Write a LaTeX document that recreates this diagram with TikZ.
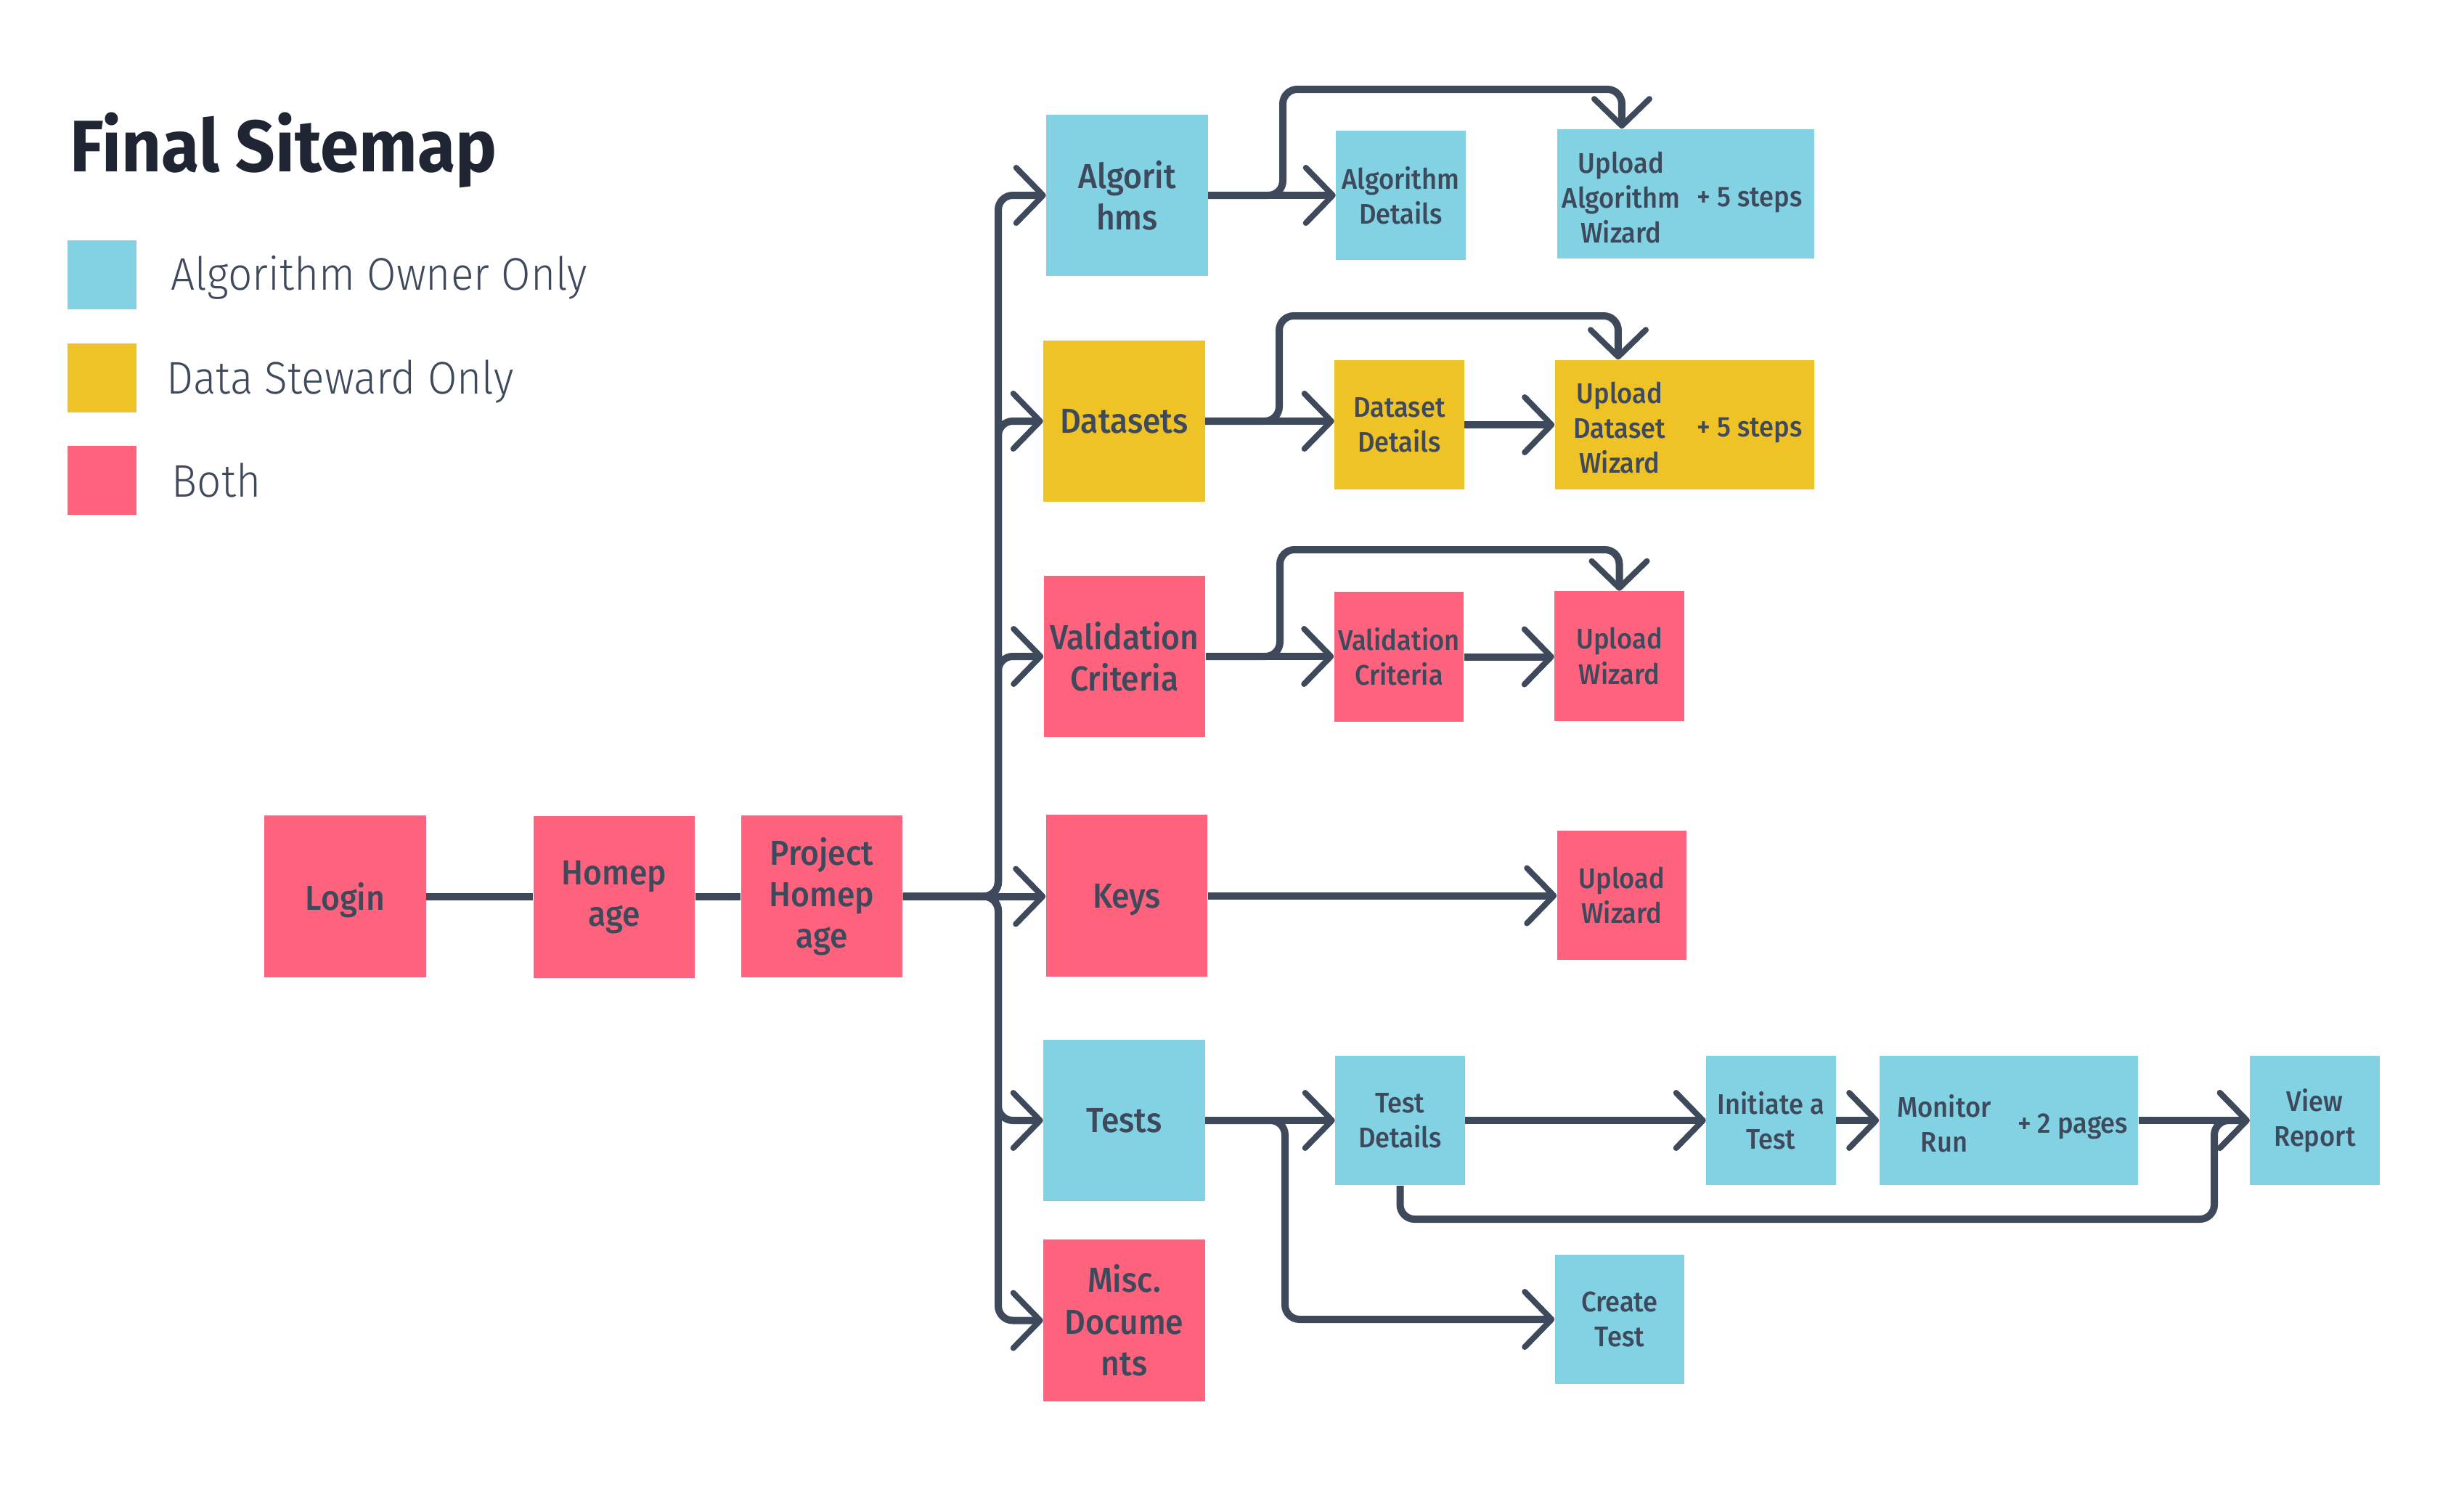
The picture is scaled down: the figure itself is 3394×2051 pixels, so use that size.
\documentclass[tikz,border=0pt]{standalone}
\usepackage{fontspec}
\setmainfont{Fira Sans}
\newfontfamily\boxfont{Fira Sans Medium}[FakeStretch=0.93]
\newfontfamily\legfont{Fira Sans Light}[FakeStretch=0.93]
\newfontfamily\titlefont{Fira Sans Bold}[FakeStretch=0.95]
\usetikzlibrary{arrows.meta}
\definecolor{cblue}{RGB}{130,210,227}
\definecolor{cyellow}{RGB}{239,194,38}
\definecolor{cpink}{RGB}{255,98,125}
\definecolor{ctext}{RGB}{62,74,92}
\definecolor{ctitle}{RGB}{31,37,50}
\definecolor{cline}{RGB}{62,74,92}
\tikzset{
  sq/.style={draw=none,inner sep=0pt,minimum width=2.22cm,minimum height=2.22cm,align=center,text=ctext,
    font=\boxfont\fontsize{13.6}{16.3}\selectfont},
  one/.style={text depth=0pt},
  sm/.style={draw=none,inner sep=0pt,minimum width=1.78cm,minimum height=1.78cm,align=center,text=ctext,
    font=\boxfont\fontsize{11.1}{13.7}\selectfont},
  lbl/.style={inner sep=0pt,align=center,text=ctext,font=\boxfont\fontsize{11.1}{13.7}\selectfont},
  conn/.style={draw=cline,line width=0.1cm,rounded corners=0.2cm},
  arr/.style={-{Straight Barb[length=0.37cm,width=0.76cm,line width=0.08cm,round]}},
  legtext/.style={anchor=base west,inner sep=0pt,text=ctext,font=\legfont\fontsize{17.9}{20}\selectfont},
}
\begin{document}
\begin{tikzpicture}[x=0.01cm,y=-0.01cm]
\useasboundingbox (0,0) rectangle (3394,2051);
\fill[white] (0,0) rectangle (3394,2051);

% title and legend
\node[anchor=base west,inner sep=0pt,text=ctitle,font=\titlefont\fontsize{28.6}{32}\selectfont] (title) at (96,236) {Final Sitemap};
\node[fill=cblue,minimum width=0.95cm,minimum height=0.95cm,inner sep=0pt] (lgb) at (140.5,378.5) {};
\node[fill=cyellow,minimum width=0.95cm,minimum height=0.94cm,inner sep=0pt] (lgy) at (140.5,520.5) {};
\node[fill=cpink,minimum width=0.95cm,minimum height=0.94cm,inner sep=0pt] (lgp) at (140.5,661.5) {};
\node[legtext] (lgbt) at (235,399) {Algorithm Owner Only};
\node[legtext] (lgyt) at (229,542) {Data Steward Only};
\node[legtext] (lgpt) at (236,684) {Both};

% main chain
\node[sq,one,fill=cpink] (login) at (475.5,1234.5) {Login};
\node[sq,fill=cpink] (home) at (846,1235.5) {Homep\\age};
\node[sq,fill=cpink] (proj) at (1132,1234.5) {Project\\Homep\\age};

% level 1
\node[sq,fill=cblue] (alg) at (1552.5,269) {Algorit\\hms};
\node[sq,one,fill=cyellow] (data) at (1548.5,580) {Datasets};
\node[sq,fill=cpink] (val) at (1549,904) {Validation\\Criteria};
\node[sq,one,fill=cpink] (keys) at (1552,1233.5) {Keys};
\node[sq,one,fill=cblue] (tests) at (1548.5,1543) {Tests};
\node[sq,fill=cpink] (misc) at (1548.5,1818.5) {Misc.\\Docume\\nts};

% level 2
\node[sm,fill=cblue] (algdet) at (1929.5,269) {Algorithm\\Details};
\node[sm,fill=cblue,minimum width=3.54cm] (upalg) at (2322,267) {};
\node[lbl] (upalgl) at ([xshift=-0.89cm,yshift=-0.05cm]upalg.center) {Upload\\Algorithm\\Wizard};
\node[lbl,text depth=0pt] (upalgr) at ([xshift=0.88cm,yshift=-0.04cm]upalg.center) {+ 5 steps};

\node[sm,fill=cyellow] (datadet) at (1927.5,585) {Dataset\\Details};
\node[sm,fill=cyellow,minimum width=3.57cm] (updata) at (2320.5,585) {};
\node[lbl] (updatal) at ([xshift=-0.895cm,yshift=-0.04cm]updata.center) {Upload\\Dataset\\Wizard};
\node[lbl,text depth=0pt] (updatar) at ([xshift=0.895cm,yshift=-0.03cm]updata.center) {+ 5 steps};

\node[sm,fill=cpink] (valdet) at (1927,904.5) {Validation\\Criteria};
\node[sm,fill=cpink] (upval) at (2230.5,903.5) {Upload\\Wizard};

\node[sm,fill=cpink] (upkeys) at (2234,1233) {Upload\\Wizard};

\node[sm,fill=cblue] (testdet) at (1928.5,1543) {Test\\Details};
\node[sm,fill=cblue] (init) at (2439.5,1543) {Initiate a\\Test};
\node[sm,fill=cblue,minimum width=3.56cm] (mon) at (2767,1543) {};
\node[lbl] (monl) at ([xshift=-0.89cm,yshift=-0.04cm]mon.center) {Monitor\\Run};
\node[lbl,text depth=0pt] (monr) at ([xshift=0.88cm,yshift=-0.04cm]mon.center) {+ 2 pages};
\node[sm,fill=cblue] (view) at (3188.5,1543) {View\\Report};
\node[sm,fill=cblue] (create) at (2231,1817) {Create\\Test};

% connectors: main chain
\draw[conn] (login.east) -- (login.east -| home.west);
\draw[conn] (home.east |- login.east) -- (proj.west);
\coordinate (j) at (1375,1234.5);
\draw[conn,arr] (proj.east) -- (proj.east -| keys.west);
\draw[conn,arr] (proj.east) -- (j) |- (alg.west);
\draw[conn,arr] (proj.east) -- (j) |- (data.west);
\draw[conn,arr] (proj.east) -- (j) |- (val.west);
\draw[conn,arr] (proj.east) -- (j) |- (tests.west);
\draw[conn,arr] (proj.east) -- (j) |- (misc.west);

% algorithms row
\draw[conn,arr] (alg.east) -- (algdet.west);
\draw[conn,arr] (alg.east) -- (1767,269) -- (1767,123) -| ([xshift=-0.88cm]upalg.north);
% datasets row
\draw[conn,arr] (data.east) -- (data.east -| datadet.west);
\draw[conn,arr] (datadet.east) -- (updata.west);
\draw[conn,arr] (data.east) -- (1762,580) -- (1762,435) -| ([xshift=-0.915cm]updata.north);
% validation row
\draw[conn,arr] (val.east) -- (val.east -| valdet.west);
\draw[conn,arr] (valdet.east) -- (valdet.east -| upval.west);
\draw[conn,arr] (val.east) -- (1763,904) -- (1763,757) -| (upval.north);
% keys row
\draw[conn,arr] (keys.east) -- (keys.east -| upkeys.west);
% tests row
\draw[conn,arr] (tests.east) -- (testdet.west);
\draw[conn,arr] (tests.east) -- (1770,1543) |- (create.west);
\draw[conn,arr] (testdet.east) -- (init.west);
\draw[conn,arr] (init.east) -- (mon.west);
\draw[conn,arr] (mon.east) -- (view.west);
\draw[conn,arr] (testdet.south) |- (3050,1679) -- (3050,1543) -- (view.west);
\end{tikzpicture}
\end{document}
